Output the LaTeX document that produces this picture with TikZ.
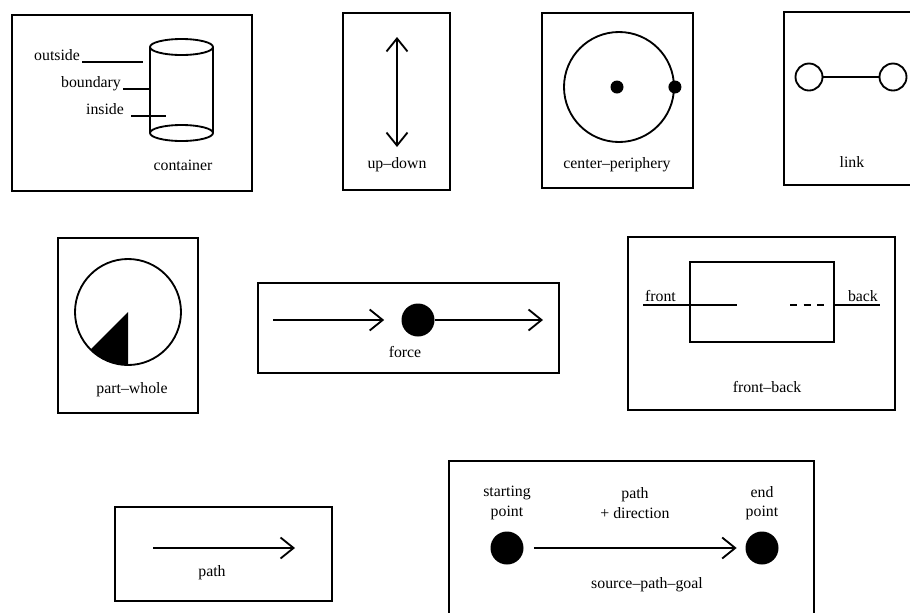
\documentclass[tikz,border=0pt]{standalone}
\usepackage{fontspec}
\setmainfont{Liberation Serif}
\usetikzlibrary{arrows.meta}

\begin{document}
\begin{tikzpicture}[
    frame/.style={draw, line width=1.5pt},
    line/.style={line width=1.05pt},
    dot/.style={circle, fill, inner sep=0pt, minimum size=#1},
    dot/.default=0.26cm,
    ring/.style={circle, draw, line width=1.05pt, inner sep=0pt, minimum size=0.54cm},
    txt/.style={font=\small, inner sep=1pt},
    >={Straight Barb[length=2.6mm,width=4.2mm]}, % open barbs
    arrow/.style={->, line width=1.05pt},
  ]

  \useasboundingbox (0,0) rectangle (18.2,-12.26);
  \clip (0,0) rectangle (18.2,-12.26);

  % container
  \draw[frame] (0.24,-0.30) rectangle (5.04,-3.82);
  \draw[line] (3.00,-0.94) -- (3.00,-2.66);
  \draw[line] (4.26,-0.94) -- (4.26,-2.66);
  \draw[line] (3.63,-0.94) ellipse (0.63 and 0.16);
  \draw[line] (3.63,-2.66) ellipse (0.63 and 0.16);
  \coordinate (out) at (2.86,-1.24);
  \coordinate (bnd) at (3.00,-1.78);
  \coordinate (ins) at (3.32,-2.32);
  \node[txt, anchor=base east] (outside)  at (1.64,-1.20) {outside};
  \node[txt, anchor=base east] (boundary) at (2.46,-1.74) {boundary};
  \node[txt, anchor=base east] (inside)   at (2.52,-2.28) {inside};
  \draw[line] (outside.east |- out) -- (out);
  \draw[line] (boundary.east |- bnd) -- (bnd);
  \draw[line] ([xshift=3pt]inside.east |- ins) -- (ins);
  \node[txt] (container) at (3.66,-3.30) {container};

  % up-down
  \draw[frame] (6.86,-0.26) rectangle (9.00,-3.80);
  \coordinate (up) at (7.94,-0.74);
  \coordinate (down) at (7.94,-2.94);
  \draw[arrow, <->] (up) -- (down);
  \node[txt] (updown) at (7.94,-3.30) {up--down};

  % center-periphery
  \draw[frame] (10.84,-0.26) rectangle (13.86,-3.76);
  \node[circle, draw, line width=1.05pt, minimum size=2.2cm, inner sep=0pt] (periphery) at (12.38,-1.74) {};
  \node[dot] (center) at (12.34,-1.74) {};
  \node[dot] (rim) at (periphery.east) {};
  \node[txt] (centerper) at (12.34,-3.30) {center--periphery};

  % link
  \draw[frame] (15.68,-0.24) rectangle (18.6,-3.70);
  \node[ring] (linka) at (16.18,-1.54) {};
  \node[ring] (linkb) at (17.86,-1.54) {};
  \draw[line] (linka) -- (linkb);
  \node[txt] (link) at (17.04,-3.24) {link};

  % part-whole
  \draw[frame] (1.16,-4.76) rectangle (3.96,-8.26);
  \coordinate (whole) at (2.56,-6.24);
  \fill (whole) -- ++(225:1.06) arc[start angle=225, end angle=270, radius=1.06] -- cycle;
  \draw[line] (whole) circle[radius=1.06];
  \node[txt] (partwhole) at (2.64,-7.80) {part--whole};

  % force
  \draw[frame] (5.16,-5.66) rectangle (11.18,-7.46);
  \node[dot=0.66cm] (mass) at (8.36,-6.40) {};
  \coordinate (push) at (5.46,-6.40);
  \coordinate (moved) at (10.86,-6.40);
  \draw[arrow] (push) -- ([xshift=-0.34cm]mass.west);
  \draw[arrow] (mass) -- (moved);
  \node[txt] (force) at (8.10,-7.04) {force};

  % front-back
  \draw[frame] (12.56,-4.74) rectangle (17.90,-8.20);
  \node[draw, line width=1.05pt, minimum width=2.88cm, minimum height=1.6cm, inner sep=0pt] (object) at (15.24,-6.04) {};
  \coordinate (frontend) at (14.74,-6.10);
  \node[txt, anchor=base west] (front) at (12.86,-6.02) {front};
  \node[txt, anchor=base east] (back) at (17.60,-6.02) {back};
  \draw[line] (front.west |- frontend) -- (frontend);
  \draw[line, dash pattern=on 0.14cm off 0.13cm] (15.80,-6.10) -- (16.48,-6.10);
  \draw[line] (object.east |- frontend) -- (back.east |- frontend);
  \node[txt] (frontback) at (15.34,-7.74) {front--back};

  % path
  \draw[frame] (2.30,-10.14) rectangle (6.64,-12.02);
  \coordinate (pathstart) at (3.06,-10.96);
  \coordinate (pathend) at (5.90,-10.96);
  \draw[arrow] (pathstart) -- (pathend);
  \node[txt] (pathlbl) at (4.24,-11.46) {path};

  % source-path-goal (box runs off the bottom)
  \draw[frame] (8.98,-9.22) rectangle (16.28,-12.6);
  \node[dot=0.66cm] (source) at (10.14,-10.96) {};
  \node[dot=0.66cm] (goal) at (15.24,-10.96) {};
  \draw[arrow, shorten <=0.2cm, shorten >=0.17cm] (source) -- (goal);
  \node[txt, align=center] (startlbl) at (10.14,-10.06) {starting\\point};
  \node[txt, align=center] (dirlbl) at (12.70,-10.06) {path\\+ direction};
  \node[txt, align=center] (endlbl) at (15.24,-10.06) {end\\point};
  \node[txt] (spg) at (12.94,-11.70) {source--path--goal};

\end{tikzpicture}
\end{document}
